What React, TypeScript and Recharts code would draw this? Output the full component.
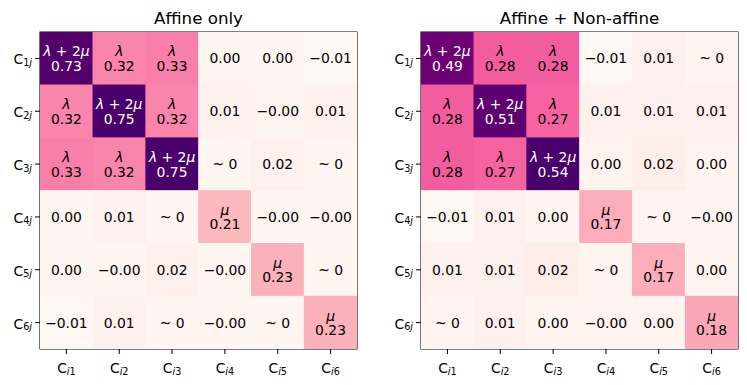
import React from 'react';
import { ScatterChart, Scatter, XAxis, YAxis, ReferenceArea } from 'recharts';

const rowIds = [1, 2, 3, 4, 5, 6];
const colIds = [1, 2, 3, 4, 5, 6];
const titles = ['Affine only', 'Affine + Non-affine'];

// null is printed as "~ 0", -0.001 prints as −0.00
const affineOnly = [
  [0.73, 0.32, 0.33, 0.0, 0.0, -0.01],
  [0.32, 0.75, 0.32, 0.01, -0.001, 0.01],
  [0.33, 0.32, 0.75, null, 0.02, null],
  [0.0, 0.01, null, 0.21, -0.001, -0.001],
  [0.0, -0.001, 0.02, -0.001, 0.23, null],
  [-0.01, 0.01, null, -0.001, null, 0.23],
];

const affineNonAffine = [
  [0.49, 0.28, 0.28, -0.01, 0.01, null],
  [0.28, 0.51, 0.27, 0.01, 0.01, 0.01],
  [0.28, 0.27, 0.54, 0.0, 0.02, 0.0],
  [-0.01, 0.01, 0.0, 0.17, null, -0.001],
  [0.01, 0.01, 0.02, null, 0.17, 0.0],
  [null, 0.01, 0.0, -0.001, 0.0, 0.18],
];

const symbols = [
  ['λ+2μ', 'λ', 'λ', '', '', ''],
  ['λ', 'λ+2μ', 'λ', '', '', ''],
  ['λ', 'λ', 'λ+2μ', '', '', ''],
  ['', '', '', 'μ', '', ''],
  ['', '', '', '', 'μ', ''],
  ['', '', '', '', '', 'μ'],
];

// matplotlib RdPu
const rdpu = [
  [255, 247, 243], [253, 224, 221], [252, 197, 192], [250, 159, 181], [247, 104, 161],
  [221, 52, 151], [174, 1, 126], [122, 1, 119], [73, 0, 106],
];

const FONT = 'DejaVu Sans, sans-serif';
const PLOT = 317;
const CELL = PLOT / 6;

function rdpuColor(t: number) {
  const v = Math.max(0, Math.min(1, t)) * (rdpu.length - 1);
  const i = Math.min(Math.floor(v), rdpu.length - 2);
  const f = v - i;
  const c = rdpu[i].map((a, k) => Math.round(a + (rdpu[i + 1][k] - a) * f));
  return `rgb(${c[0]},${c[1]},${c[2]})`;
}

function buildCells(matrix: (number | null)[][]) {
  const flat = matrix.flat().map((v) => v ?? 0);
  const lo = Math.min(...flat);
  const hi = Math.max(...flat);
  const out: any[] = [];
  rowIds.forEach((r, ri) => {
    colIds.forEach((c, ci) => {
      const raw = matrix[ri][ci];
      const v = raw ?? 0;
      const t = (v - lo) / (hi - lo);
      out.push({
        col: c,
        row: r,
        fill: rdpuColor(t),
        light: t > 0.8,
        sym: symbols[ri][ci],
        label: raw === null ? '~ 0' : raw.toFixed(2).replace('-', '\u2212'),
      });
    });
  });
  return out;
}

function Sym({ s }: { s: string }) {
  if (s === 'λ+2μ') {
    return (
      <>
        <tspan fontStyle="italic">λ</tspan>
        <tspan> + 2</tspan>
        <tspan fontStyle="italic">μ</tspan>
      </>
    );
  }
  return <tspan fontStyle="italic">{s}</tspan>;
}

function HeatCell(props: any) {
  const { cx, cy, payload } = props;
  const color = payload.light ? '#fff' : '#000';
  return (
    <g>
      <rect x={cx - CELL / 2 - 0.3} y={cy - CELL / 2 - 0.3} width={CELL + 0.6} height={CELL + 0.6} fill={payload.fill} />
      {payload.sym ? (
        <>
          <text x={cx} y={cy - 2} textAnchor="middle" fontFamily={FONT} fontSize={13.9} fill={color}>
            <Sym s={payload.sym} />
          </text>
          <text x={cx} y={cy + 12.5} textAnchor="middle" fontFamily={FONT} fontSize={13.9} fill={color}>
            {payload.label}
          </text>
        </>
      ) : (
        <text x={cx} y={cy + 5} textAnchor="middle" fontFamily={FONT} fontSize={13.9} fill={color}>
          {payload.label}
        </text>
      )}
    </g>
  );
}

function YTick(props: any) {
  const { x, y, payload } = props;
  return (
    <text x={x - 1} y={y + 6} textAnchor="end" fontFamily={FONT} fontSize={13.9} fill="#000">
      C
      <tspan fontSize={9.7} dy={1.5}>{payload.value}</tspan>
      <tspan fontSize={9.7} fontStyle="italic">j</tspan>
    </text>
  );
}

function XTick(props: any) {
  const { x, y, payload } = props;
  return (
    <text x={x} y={y + 17} textAnchor="middle" fontFamily={FONT} fontSize={13.9} fill="#000">
      C
      <tspan fontSize={9.7} dy={1.5} fontStyle="italic">i</tspan>
      <tspan fontSize={9.7}>{payload.value}</tspan>
    </text>
  );
}

function Heatmap({ matrix, yWidth, width }: { matrix: (number | null)[][]; yWidth: number; width: number }) {
  const data = buildCells(matrix);
  return (
    <ScatterChart width={width} height={385} margin={{ top: 32, right: width - yWidth - PLOT, bottom: 0, left: 0 }}>
      <XAxis
        type="number"
        dataKey="col"
        domain={[0.5, 6.5]}
        ticks={colIds}
        allowDataOverflow
        height={36}
        tickSize={5}
        tickLine={{ stroke: '#000' }}
        axisLine={false}
        tick={<XTick />}
        interval={0}
      />
      <YAxis
        type="number"
        dataKey="row"
        domain={[0.5, 6.5]}
        ticks={rowIds}
        reversed
        allowDataOverflow
        width={yWidth}
        tickSize={5}
        tickLine={{ stroke: '#000' }}
        axisLine={false}
        tick={<YTick />}
        interval={0}
      />
      <Scatter data={data} shape={<HeatCell />} isAnimationActive={false} />
      <ReferenceArea x1={0.5} x2={6.5} y1={0.5} y2={6.5} fill="none" stroke="#000" strokeWidth={1.1} ifOverflow="visible" />
    </ScatterChart>
  );
}

export default function App() {
  return (
    <div style={{ position: 'absolute', left: 0, top: 0, width: 747, height: 385, background: '#fff' }}>
      <div style={{ position: 'absolute', left: 0, top: 0 }}>
        <Heatmap matrix={affineOnly} yWidth={40} width={373} />
      </div>
      <div style={{ position: 'absolute', left: 373, top: 0 }}>
        <Heatmap matrix={affineNonAffine} yWidth={48} width={374} />
      </div>
      <svg width={747} height={32} style={{ position: 'absolute', left: 0, top: 0 }}>
        <text x={40 + PLOT / 2} y={24} textAnchor="middle" fontFamily={FONT} fontSize={16.7} fill="#000">
          {titles[0]}
        </text>
        <text x={421 + PLOT / 2} y={24} textAnchor="middle" fontFamily={FONT} fontSize={16.7} fill="#000">
          {titles[1]}
        </text>
      </svg>
    </div>
  );
}
